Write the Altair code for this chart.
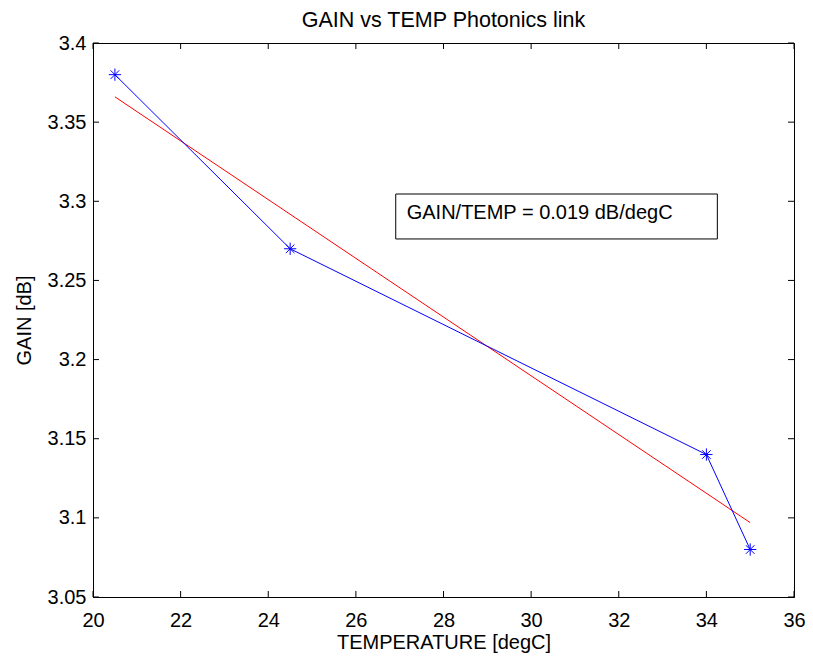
import altair as alt
import pandas as pd

# Measured data (blue series)
temp = [20.5, 24.5, 34.0, 35.0]
gain = [3.38, 3.27, 3.14, 3.08]

# Linear fit (red line) endpoints
fit_temp = [20.5, 35.0]
fit_gain = [3.366, 3.097]

# Axis ticks
x_ticks = [20, 22, 24, 26, 28, 30, 32, 34, 36]
y_ticks = [3.05, 3.1, 3.15, 3.2, 3.25, 3.3, 3.35, 3.4]

# Annotation box (data coordinates)
box_x = [26.91]
box_x2 = [34.25]
box_y = [3.3046]
box_y2 = [3.2762]
label_x = [27.16]
label_y = [3.2888]
label_text = ["GAIN/TEMP = 0.019 dB/degC"]

W, H = 701, 554
FONT = "Liberation Sans"

xs = alt.Scale(domain=[20, 36], nice=False, zero=False)
ys = alt.Scale(domain=[3.05, 3.4], nice=False, zero=False)

df = pd.DataFrame({"t": temp, "g": gain})
fit_df = pd.DataFrame({"t": fit_temp, "g": fit_gain})
xt_df = pd.DataFrame({"t": x_ticks})
yt_df = pd.DataFrame({"g": y_ticks})
box_df = pd.DataFrame({"x": box_x, "x2": box_x2, "y": box_y, "y2": box_y2})
lab_df = pd.DataFrame({"x": label_x, "y": label_y, "s": label_text})

x_axis = alt.Axis(
    values=x_ticks, grid=False, ticks=False, tickSize=0, labelPadding=13,
    labelFontSize=20, labelFont=FONT, labelColor="black", labelFlush=False,
    labelOverlap=False, domainColor="black",
    title="TEMPERATURE [degC]", titleFont=FONT, titleFontSize=20,
    titleFontWeight="normal", titleColor="black",
    titleX=W / 2, titleY=51, titleBaseline="alphabetic", titleAlign="center",
)
y_axis = alt.Axis(
    values=y_ticks, grid=False, ticks=False, tickSize=0, labelPadding=7,
    labelFontSize=20, labelFont=FONT, labelColor="black", labelFlush=False,
    labelOverlap=False, format=".2~f", domainColor="black",
    title="GAIN [dB]", titleFont=FONT, titleFontSize=20,
    titleFontWeight="normal", titleColor="black",
    titleX=-63, titleY=H / 2, titleBaseline="alphabetic", titleAlign="center",
    titleAngle=270,
)

asterisk = "M-1,0L1,0M0,-1L0,1M-0.7,-0.7L0.7,0.7M-0.7,0.7L0.7,-0.7"

base_line = alt.Chart(df).mark_line(color="#0000ff", strokeWidth=1).encode(
    x=alt.X("t:Q", scale=xs, axis=x_axis),
    y=alt.Y("g:Q", scale=ys, axis=y_axis),
)
points = alt.Chart(df).mark_point(
    shape=asterisk, filled=False, color="#0000ff", size=150, strokeWidth=1, opacity=1
).encode(
    x=alt.X("t:Q", scale=xs),
    y=alt.Y("g:Q", scale=ys),
)
fit = alt.Chart(fit_df).mark_line(color="#ff0000", strokeWidth=1).encode(
    x=alt.X("t:Q", scale=xs),
    y=alt.Y("g:Q", scale=ys),
)
box = alt.Chart(box_df).mark_rect(fill="white", stroke="black", strokeWidth=1).encode(
    x=alt.X("x:Q", scale=xs), x2="x2:Q",
    y=alt.Y("y:Q", scale=ys), y2="y2:Q",
)
label = alt.Chart(lab_df).mark_text(
    align="left", baseline="alphabetic", fontSize=20, font=FONT, color="black"
).encode(
    x=alt.X("x:Q", scale=xs),
    y=alt.Y("y:Q", scale=ys),
    text="s:N",
)

tk = dict(color="black", size=6, thickness=1, opacity=1)
xt_top = alt.Chart(xt_df).mark_tick(**tk).encode(
    x=alt.X("t:Q", scale=xs), y=alt.value(3))
xt_bot = alt.Chart(xt_df).mark_tick(**tk).encode(
    x=alt.X("t:Q", scale=xs), y=alt.value(H - 3))
yt_left = alt.Chart(yt_df).mark_tick(**tk).encode(
    y=alt.Y("g:Q", scale=ys), x=alt.value(3))
yt_right = alt.Chart(yt_df).mark_tick(**tk).encode(
    y=alt.Y("g:Q", scale=ys), x=alt.value(W - 3))

chart = alt.layer(
    xt_top, xt_bot, yt_left, yt_right, fit, base_line, points, box, label
).properties(
    width=W, height=H,
    title=alt.TitleParams(
        "GAIN vs TEMP Photonics link", font=FONT, fontSize=21.5,
        fontWeight="normal", color="black", baseline="alphabetic", offset=2, dy=17,
    ),
    autosize=alt.AutoSizeParams(type="none"),
    padding={"left": 85, "top": 35, "right": 11, "bottom": 60},
    background="white",
).configure_view(stroke="black", strokeWidth=1)

chart.save("out.html", embed_options={"renderer": "svg", "actions": False})
